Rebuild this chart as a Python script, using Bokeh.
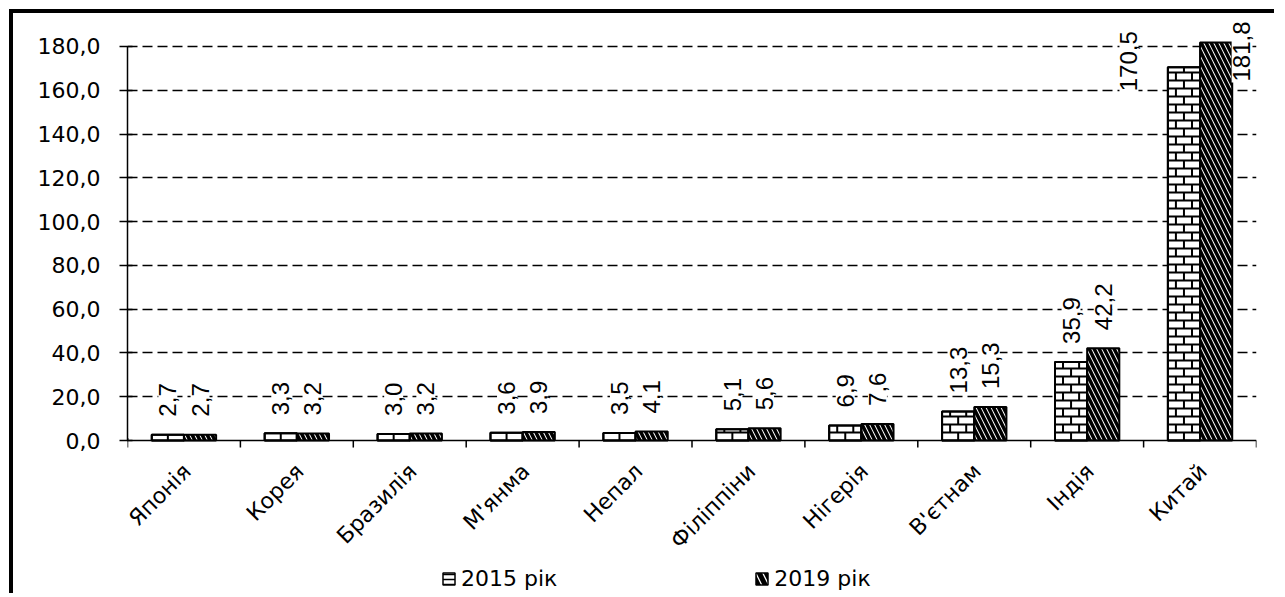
import numpy as np
from bokeh.plotting import figure
from bokeh.models import (ColumnDataSource, FixedTicker, Range1d, Legend, LegendItem, Span)
from bokeh.embed import file_html
from bokeh.resources import INLINE
from bokeh.core.properties import value

# ---------------- data ----------------
categories = ["Японія", "Корея", "Бразилія", "М'янма", "Непал",
              "Філіппіни", "Нігерія", "В'єтнам", "Індія", "Китай"]
values_2015 = [2.7, 3.3, 3.0, 3.6, 3.5, 5.1, 6.9, 13.3, 35.9, 170.5]
values_2019 = [2.7, 3.2, 3.2, 3.9, 4.1, 5.6, 7.6, 15.3, 42.2, 181.8]
series_names = ["2015 рік", "2019 рік"]
y_ticks = [0, 20, 40, 60, 80, 100, 120, 140, 160, 180]
y_tick_labels = ["0,0", "20,0", "40,0", "60,0", "80,0", "100,0",
                 "120,0", "140,0", "160,0", "180,0"]

# manual label nudges (screen px) for the tallest group
label_nudge = {"Китай": [(-55, 25), (25, 40)]}

# ---------------- figure ----------------
n = len(categories)
centers = [i + 0.5 for i in range(n)]
bounds = list(range(n + 1))
bw = 0.285
Y_START, Y_END = -71.7, 193.7

W, H = 1265, 584
MB_TOP = 3
p = figure(width=W, height=H,
           x_range=Range1d(0, n), y_range=Range1d(Y_START, Y_END),
           output_backend="svg", toolbar_location=None,
           x_axis_location=None,
           min_border_left=114, min_border_right=22,
           min_border_top=MB_TOP, min_border_bottom=0,
           margin=(9, 0, 0, 9))
p.styles = {"border-left": "4px solid black", "border-top": "4px solid black"}
p.outline_line_color = None
p.background_fill_color = "white"
p.border_fill_color = "white"

p.xgrid.visible = False
p.ygrid.ticker = FixedTicker(ticks=y_ticks[1:])
p.ygrid.grid_line_color = "black"
p.ygrid.grid_line_width = 1.5
p.ygrid.grid_line_dash = "10 5"

# pixels per data unit on the value scale
px_per_unit = (H - MB_TOP) / (Y_END - Y_START)

x1 = [c - bw / 2 for c in centers]
x2 = [c + bw / 2 for c in centers]

r1 = p.vbar(x=x1, top=values_2015, width=bw, bottom=0,
            fill_color="white", line_color="black", line_width=2)
r2 = p.vbar(x=x2, top=values_2019, width=bw, bottom=0,
            fill_color="white", line_color="black", line_width=2,
            hatch_pattern="left_diagonal_line", hatch_color="black",
            hatch_scale=10, hatch_weight=3.5)

# brick texture of the 2015 bars (rows ~8 px high, bricks ~half a bar wide)
row_h = 8 / px_per_unit
bx0, by0, bx1, by1 = [], [], [], []
for xc, top in zip(x1, values_2015):
    left, right = xc - bw / 2, xc + bw / 2
    k = 0
    while k * row_h < top:
        y_lo = k * row_h
        y_hi = min((k + 1) * row_h, top)
        if k > 0:
            bx0.append(left); bx1.append(right); by0.append(y_lo); by1.append(y_lo)
        joints = [xc] if k % 2 == 0 else [xc - bw / 4, xc + bw / 4]
        for jx in joints:
            bx0.append(jx); bx1.append(jx); by0.append(y_lo); by1.append(y_hi)
        k += 1
p.segment(x0=bx0, y0=by0, x1=bx1, y1=by1, line_color="black", line_width=2)
p.vbar(x=x1, top=values_2015, width=bw, bottom=0,
       fill_color=None, line_color="black", line_width=2)

# ---------------- category axis (drawn inside the frame) ----------------
p.add_layout(Span(location=0, dimension="width", line_color="black", line_width=1.5))
tick_len = 7 / px_per_unit
p.segment(x0=bounds, y0=[0] * len(bounds), x1=bounds, y1=[-tick_len] * len(bounds),
          line_color="black", line_width=1.5)
p.text(x=centers, y=[0] * n, text=categories, angle=np.pi / 4,
       x_offset=3, y_offset=27, text_align="right", text_baseline="middle",
       text_font=value("DejaVu Sans"), text_font_size="22px", text_color="black")

# ---------------- data labels ----------------
lx, ly, lt, dx, dy = [], [], [], [], []
for i, cat in enumerate(categories):
    for s, (xs, vals) in enumerate([(x1, values_2015), (x2, values_2019)]):
        lx.append(xs[i])
        ly.append(vals[i])
        lt.append(f"{vals[i]:.1f}".replace(".", ","))
        if cat in label_nudge:
            ox, oy = label_nudge[cat][s]
        else:
            ox, oy = 0, -17
        dx.append(ox)
        dy.append(oy)

src = ColumnDataSource(dict(x=lx, y=ly, text=lt, dx=dx, dy=dy))
p.text(x="x", y="y", text="text", source=src, angle=np.pi / 2,
       x_offset="dx", y_offset="dy", text_align="left", text_baseline="middle",
       text_font=value("Liberation Sans"), text_font_size="24px", text_color="black",
       background_fill_color="white", padding=1)

# ---------------- value axis ----------------
ya = p.yaxis[0]
ya.ticker = FixedTicker(ticks=y_ticks)
ya.major_label_overrides = {t: l for t, l in zip(y_ticks, y_tick_labels)}
ya.bounds = (0, 180)
ya.axis_line_color = "black"
ya.axis_line_width = 1.5
ya.major_tick_in = 5
ya.major_tick_out = 8
ya.major_tick_line_width = 1.5
ya.minor_tick_line_color = None
ya.major_label_standoff = 19
ya.major_label_text_font = "DejaVu Sans"
ya.major_label_text_font_size = "22px"
ya.major_label_text_color = "black"

# ---------------- legend ----------------
# legend swatches (kept outside the visible x range)
k1 = p.vbar(x=[-5], top=[1], width=0.5, fill_color="white", line_color="black",
            line_width=1.5, hatch_pattern="horizontal_line", hatch_color="black",
            hatch_scale=5, hatch_weight=1.5)
k2 = p.vbar(x=[-5], top=[1], width=0.5, fill_color="white", line_color="black",
            line_width=1.5, hatch_pattern="left_diagonal_line", hatch_color="black",
            hatch_scale=14, hatch_weight=5)

legend = Legend(items=[LegendItem(label=series_names[0], renderers=[k1]),
                       LegendItem(label=series_names[1], renderers=[k2])],
                orientation="horizontal", location=(314, 6),
                spacing=197, glyph_width=15, glyph_height=15, label_standoff=5,
                label_text_font="DejaVu Sans", label_text_font_size="22px",
                label_text_color="black",
                border_line_color=None, background_fill_alpha=0,
                margin=0, padding=0)
p.add_layout(legend, "center")

open("out.html", "w").write(file_html(p, INLINE))
